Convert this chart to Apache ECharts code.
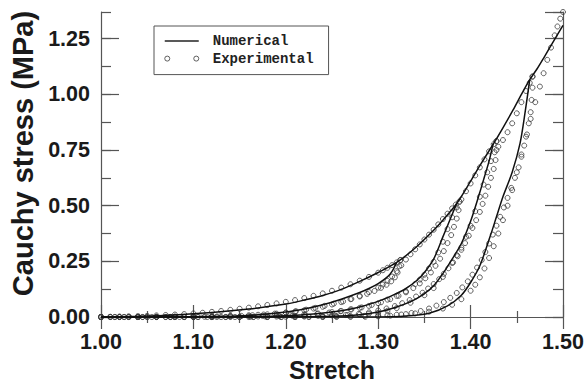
<!DOCTYPE html>
<html>
<head>
<meta charset="utf-8">
<script src="https://cdn.jsdelivr.net/npm/echarts@6/dist/echarts.min.js"></script>
<style>html,body{margin:0;padding:0;background:#fff}#chart{width:584px;height:385px}</style>
</head>
<body>
<div id="chart"></div>
<script>
// ---------- axis ranges / labels ----------
const xMin = 1.0, xMax = 1.5, xStep = 0.1;
const yMin = 0, yMax = 1.37, yStep = 0.25;
const xTitle = 'Stretch';
const yTitle = 'Cauchy stress (MPa)';
const legendNames = ['Numerical', 'Experimental'];

// ---------- numerical model (lines) : [stretch, stress MPa] ----------
const numPrimary = [[1.00,0.000],[1.04,0.003],[1.08,0.009],[1.12,0.020],[1.16,0.036],[1.20,0.058],[1.22,0.076],[1.24,0.097],[1.26,0.124],[1.28,0.160],[1.30,0.200],[1.32,0.245],[1.34,0.310],[1.36,0.390],[1.37,0.435],[1.385,0.510],[1.40,0.610],[1.41,0.680],[1.425,0.780],[1.435,0.850],[1.446,0.930],[1.455,1.000],[1.464,1.066],[1.472,1.115],[1.480,1.170],[1.490,1.240],[1.500,1.310]];
const numUnload1 = [[1.32,0.245],[1.315,0.205],[1.31,0.180],[1.30,0.150],[1.29,0.128],[1.28,0.110],[1.26,0.080],[1.24,0.055],[1.22,0.036],[1.20,0.022],[1.17,0.010],[1.13,0.003],[1.08,0.000],[1.00,0.000]];
const numUnload2 = [[1.385,0.510],[1.378,0.440],[1.37,0.360],[1.36,0.260],[1.35,0.200],[1.342,0.165],[1.33,0.128],[1.316,0.098],[1.30,0.070],[1.28,0.045],[1.26,0.028],[1.233,0.015],[1.20,0.006],[1.15,0.001],[1.10,0.000],[1.00,0.000]];
const numUnload3 = [[1.4246,0.781],[1.42,0.700],[1.415,0.630],[1.41,0.560],[1.40,0.430],[1.39,0.330],[1.38,0.260],[1.37,0.195],[1.36,0.140],[1.35,0.105],[1.338,0.075],[1.32,0.045],[1.30,0.022],[1.28,0.010],[1.25,0.003],[1.20,0.000],[1.00,0.000]];
const numUnload4 = [[1.464,1.066],[1.459,0.920],[1.4535,0.780],[1.445,0.650],[1.435,0.540],[1.428,0.450],[1.421,0.360],[1.41,0.230],[1.40,0.155],[1.39,0.098],[1.375,0.050],[1.356,0.018],[1.33,0.004],[1.30,0.000],[1.00,0.000]];

// ---------- experimental data (circles) : [stretch, stress MPa] ----------
const expLoad1 = [[1.00,0],[1.01,0.001],[1.02,0.002],[1.03,0.003],[1.04,0.004],[1.05,0.005],[1.06,0.007],[1.07,0.009],[1.08,0.011],[1.09,0.013],[1.10,0.016],[1.11,0.019],[1.12,0.023],[1.13,0.027],[1.14,0.032],[1.15,0.037],[1.16,0.042],[1.17,0.048],[1.18,0.054],[1.19,0.061],[1.20,0.068],[1.21,0.076],[1.22,0.085],[1.23,0.095],[1.24,0.106],[1.25,0.118],[1.26,0.132],[1.27,0.147],[1.28,0.163],[1.29,0.180],[1.30,0.199],[1.305,0.210],[1.31,0.221],[1.315,0.233],[1.32,0.245],[1.324,0.256]];
const expUnload1 = [[1.324,0.256],[1.323,0.228],[1.321,0.200],[1.318,0.178],[1.314,0.160],[1.309,0.145],[1.303,0.131],[1.296,0.117],[1.288,0.104],[1.280,0.092],[1.271,0.081],[1.262,0.070],[1.252,0.060],[1.242,0.050],[1.232,0.041],[1.222,0.033],[1.211,0.026],[1.200,0.020],[1.188,0.015],[1.176,0.011],[1.164,0.008],[1.152,0.005],[1.140,0.003],[1.126,0.002],[1.112,0.001],[1.10,0],[1.09,0],[1.08,0],[1.07,0],[1.06,0],[1.05,0],[1.04,0],[1.03,0],[1.02,0],[1.01,0],[1.00,0]];
const expLoad2 = [[1.00,0],[1.02,0],[1.04,0],[1.06,0.001],[1.08,0.002],[1.10,0.003],[1.12,0.004],[1.14,0.006],[1.16,0.008],[1.17,0.010],[1.18,0.012],[1.19,0.015],[1.20,0.019],[1.21,0.024],[1.22,0.030],[1.23,0.038],[1.24,0.046],[1.25,0.056],[1.26,0.067],[1.27,0.080],[1.28,0.095],[1.29,0.112],[1.30,0.132],[1.305,0.146],[1.31,0.162],[1.315,0.182],[1.32,0.206],[1.325,0.232],[1.33,0.258],[1.335,0.282],[1.34,0.304],[1.345,0.326],[1.35,0.348],[1.355,0.370],[1.36,0.392],[1.365,0.416],[1.37,0.440],[1.375,0.464],[1.38,0.488],[1.384,0.505],[1.388,0.518]];
const expUnload2 = [[1.388,0.518],[1.387,0.480],[1.385,0.442],[1.382,0.405],[1.379,0.368],[1.375,0.332],[1.371,0.296],[1.367,0.262],[1.362,0.230],[1.357,0.200],[1.351,0.174],[1.345,0.151],[1.338,0.130],[1.330,0.111],[1.322,0.095],[1.313,0.080],[1.303,0.066],[1.293,0.054],[1.282,0.043],[1.271,0.034],[1.259,0.026],[1.247,0.020],[1.234,0.014],[1.221,0.010],[1.207,0.006],[1.193,0.004],[1.178,0.002],[1.162,0.001],[1.145,0],[1.13,0],[1.115,0],[1.10,0],[1.085,0],[1.07,0],[1.055,0],[1.04,0],[1.025,0],[1.01,0]];
const expLoad3 = [[1.00,0],[1.02,0],[1.04,0],[1.06,0],[1.08,0.001],[1.10,0.001],[1.12,0.002],[1.14,0.003],[1.16,0.004],[1.175,0.005],[1.19,0.007],[1.205,0.009],[1.22,0.012],[1.235,0.016],[1.25,0.022],[1.26,0.027],[1.27,0.034],[1.28,0.041],[1.29,0.050],[1.30,0.062],[1.31,0.078],[1.32,0.095],[1.33,0.115],[1.34,0.148],[1.345,0.168],[1.35,0.190],[1.355,0.218],[1.36,0.248],[1.365,0.290],[1.37,0.338],[1.375,0.395],[1.38,0.448],[1.385,0.492],[1.39,0.528],[1.395,0.565],[1.40,0.600],[1.405,0.636],[1.41,0.672],[1.415,0.708],[1.42,0.744],[1.425,0.776],[1.428,0.790]];
const expUnload3 = [[1.428,0.790],[1.428,0.750],[1.427,0.705],[1.425,0.665],[1.422,0.625],[1.419,0.585],[1.416,0.545],[1.413,0.508],[1.410,0.472],[1.406,0.435],[1.402,0.400],[1.398,0.365],[1.394,0.332],[1.390,0.302],[1.386,0.273],[1.381,0.245],[1.376,0.219],[1.371,0.194],[1.366,0.170],[1.360,0.148],[1.354,0.128],[1.348,0.109],[1.341,0.092],[1.334,0.076],[1.326,0.062],[1.318,0.049],[1.309,0.038],[1.300,0.029],[1.290,0.021],[1.279,0.014],[1.267,0.009],[1.254,0.005],[1.240,0.002],[1.225,0.001],[1.21,0],[1.195,0],[1.18,0],[1.165,0],[1.15,0],[1.135,0],[1.12,0],[1.105,0],[1.09,0],[1.075,0],[1.06,0],[1.045,0],[1.03,0],[1.015,0]];
const expLoad4 = [[1.00,0],[1.025,0],[1.05,0],[1.075,0],[1.10,0],[1.125,0.001],[1.15,0.001],[1.17,0.002],[1.19,0.002],[1.21,0.003],[1.22,0.004],[1.235,0.005],[1.25,0.007],[1.265,0.009],[1.28,0.012],[1.29,0.015],[1.30,0.019],[1.31,0.028],[1.32,0.040],[1.335,0.064],[1.35,0.098],[1.36,0.130],[1.37,0.180],[1.38,0.243],[1.385,0.278],[1.39,0.312],[1.395,0.360],[1.40,0.410],[1.405,0.475],[1.41,0.540],[1.414,0.595],[1.418,0.650],[1.422,0.700],[1.426,0.740],[1.430,0.765],[1.435,0.795],[1.440,0.830],[1.445,0.870],[1.450,0.915],[1.455,0.965],[1.460,1.015],[1.464,1.052],[1.467,1.080]];
const expUnload4 = [[1.467,1.080],[1.467,1.030],[1.466,0.975],[1.465,0.920],[1.463,0.870],[1.461,0.820],[1.458,0.770],[1.455,0.720],[1.452,0.672],[1.448,0.625],[1.444,0.580],[1.440,0.535],[1.436,0.492],[1.432,0.450],[1.428,0.410],[1.424,0.370],[1.420,0.330],[1.416,0.292],[1.412,0.256],[1.407,0.222],[1.402,0.190],[1.397,0.160],[1.391,0.133],[1.385,0.108],[1.378,0.086],[1.371,0.067],[1.363,0.051],[1.355,0.038],[1.346,0.027],[1.336,0.018],[1.325,0.011],[1.313,0.006],[1.300,0.003],[1.286,0.001],[1.27,0],[1.255,0],[1.24,0],[1.225,0],[1.21,0],[1.195,0],[1.18,0],[1.165,0],[1.15,0],[1.135,0],[1.12,0],[1.105,0],[1.09,0],[1.075,0],[1.06,0],[1.045,0],[1.03,0],[1.015,0]];
const expLoad5 = [[1.00,0],[1.02,0],[1.04,0],[1.06,0],[1.08,0],[1.10,0],[1.12,0],[1.14,0],[1.16,0],[1.18,0.001],[1.20,0.001],[1.22,0.002],[1.24,0.002],[1.255,0.003],[1.27,0.004],[1.285,0.005],[1.30,0.007],[1.31,0.008],[1.32,0.010],[1.33,0.013],[1.34,0.016],[1.355,0.024],[1.37,0.038],[1.38,0.055],[1.39,0.080],[1.40,0.118],[1.405,0.145],[1.41,0.178],[1.415,0.218],[1.42,0.265],[1.425,0.318],[1.43,0.375],[1.435,0.435],[1.44,0.500],[1.445,0.570],[1.45,0.650],[1.455,0.730],[1.46,0.810],[1.465,0.890],[1.470,0.965],[1.475,1.035],[1.479,1.095],[1.483,1.155],[1.487,1.210],[1.491,1.265],[1.494,1.305],[1.497,1.340],[1.500,1.370]];

const numCurves = [numPrimary, numUnload1, numUnload2, numUnload3, numUnload4];
const expCurves = [expLoad1, expUnload1, expLoad2, expUnload2, expLoad3, expUnload3, expLoad4, expUnload4, expLoad5];

// ---------- styling ----------
const FONT = "'Liberation Sans', Arial, Helvetica, sans-serif";
const TXT = '#1a1a1a';
const AX = '#555';

const chart = echarts.init(document.getElementById('chart'), null, {renderer: 'svg'});

function xAxisDef(pos, withLabels) {
  return {
    type: 'value', position: pos, min: xMin, max: xMax, interval: xStep,
    axisLine: {show: true, lineStyle: {color: AX, width: 1.2}},
    axisTick: {show: true, inside: true, length: 12, lineStyle: {color: AX, width: 1.2}},
    minorTick: {show: true, splitNumber: 2, length: 6, lineStyle: {color: AX, width: 1.2}},
    axisLabel: withLabels ? {show: true, margin: 14, fontFamily: FONT, fontSize: 21.5, fontWeight: 'bold', color: TXT,
      formatter: v => v.toFixed(2)} : {show: false},
    splitLine: {show: false},
    name: withLabels ? xTitle : '',
    nameLocation: 'middle', nameGap: 39,
    nameTextStyle: {fontFamily: FONT, fontSize: 25, fontWeight: 'bold', color: TXT}
  };
}
function yAxisDef(pos, step, len, withLabels, showLine) {
  return {
    type: 'value', position: pos, min: yMin, max: yMax, interval: step,
    axisLine: {show: showLine, lineStyle: {color: AX, width: 1.2}},
    axisTick: {show: true, inside: true, length: len, lineStyle: {color: AX, width: 1.2}},
    axisLabel: withLabels ? {show: true, margin: 11, fontFamily: FONT, fontSize: 21.5, fontWeight: 'bold', color: TXT,
      showMaxLabel: false, formatter: v => v.toFixed(2)} : {show: false},
    splitLine: {show: false},
    name: withLabels ? yTitle : '',
    nameLocation: 'middle', nameGap: 64,
    nameTextStyle: {fontFamily: FONT, fontSize: 29, fontWeight: 'bold', color: TXT, padding: [0, 0, 0, 22]}
  };
}

const series = [];
expCurves.forEach(d => series.push({
  type: 'scatter', name: legendNames[1], data: d, xAxisIndex: 0, yAxisIndex: 0,
  symbol: 'circle', symbolSize: 5,
  itemStyle: {color: 'rgba(255,255,255,0)', borderColor: '#3a3a3a', borderWidth: 1},
  z: 2, animation: false, silent: true
}));
numCurves.forEach(d => series.push({
  type: 'line', name: legendNames[0], data: d, xAxisIndex: 0, yAxisIndex: 0,
  symbol: 'none', showSymbol: false, smooth: 0.3,
  lineStyle: {color: '#111', width: 1.5}, itemStyle: {color: '#111'},
  z: 3, animation: false, silent: true
}));

chart.setOption({
  animation: false,
  backgroundColor: '#fff',
  grid: {left: 101, right: 21, top: 12, bottom: 68, containLabel: false, outerBoundsMode: 'none'},
  xAxis: [xAxisDef('bottom', true), xAxisDef('top', false)],
  yAxis: [
    yAxisDef('left', yStep, 18, true, true),
    yAxisDef('left', yStep / 2, 10, false, false),
    yAxisDef('right', yStep, 18, false, true),
    yAxisDef('right', yStep / 2, 10, false, false)
  ],
  legend: {
    show: true, orient: 'vertical', left: 154, top: 26,
    padding: [8, 15, 9, 10], itemGap: 3.6, itemWidth: 34, itemHeight: 5,
    borderColor: '#555', borderWidth: 1, backgroundColor: '#fff',
    textStyle: {fontFamily: "'Liberation Mono', 'Courier New', monospace", fontSize: 14, fontWeight: 'bold', color: '#222', padding: [0, 0, 0, 9], lineHeight: 14},
    data: [
      {name: legendNames[0], itemStyle: {opacity: 0}, lineStyle: {color: '#222', width: 1.5}},
      {name: legendNames[1], icon: 'path://M0,2.5A2.5,2.5 0 1,0 5,2.5A2.5,2.5 0 1,0 0,2.5ZM29,2.5A2.5,2.5 0 1,0 34,2.5A2.5,2.5 0 1,0 29,2.5Z',
       itemStyle: {color: 'rgba(255,255,255,0)', borderColor: '#3a3a3a', borderWidth: 1}}
    ],
    selectedMode: false
  },
  series: series
});
</script>
</body>
</html>
